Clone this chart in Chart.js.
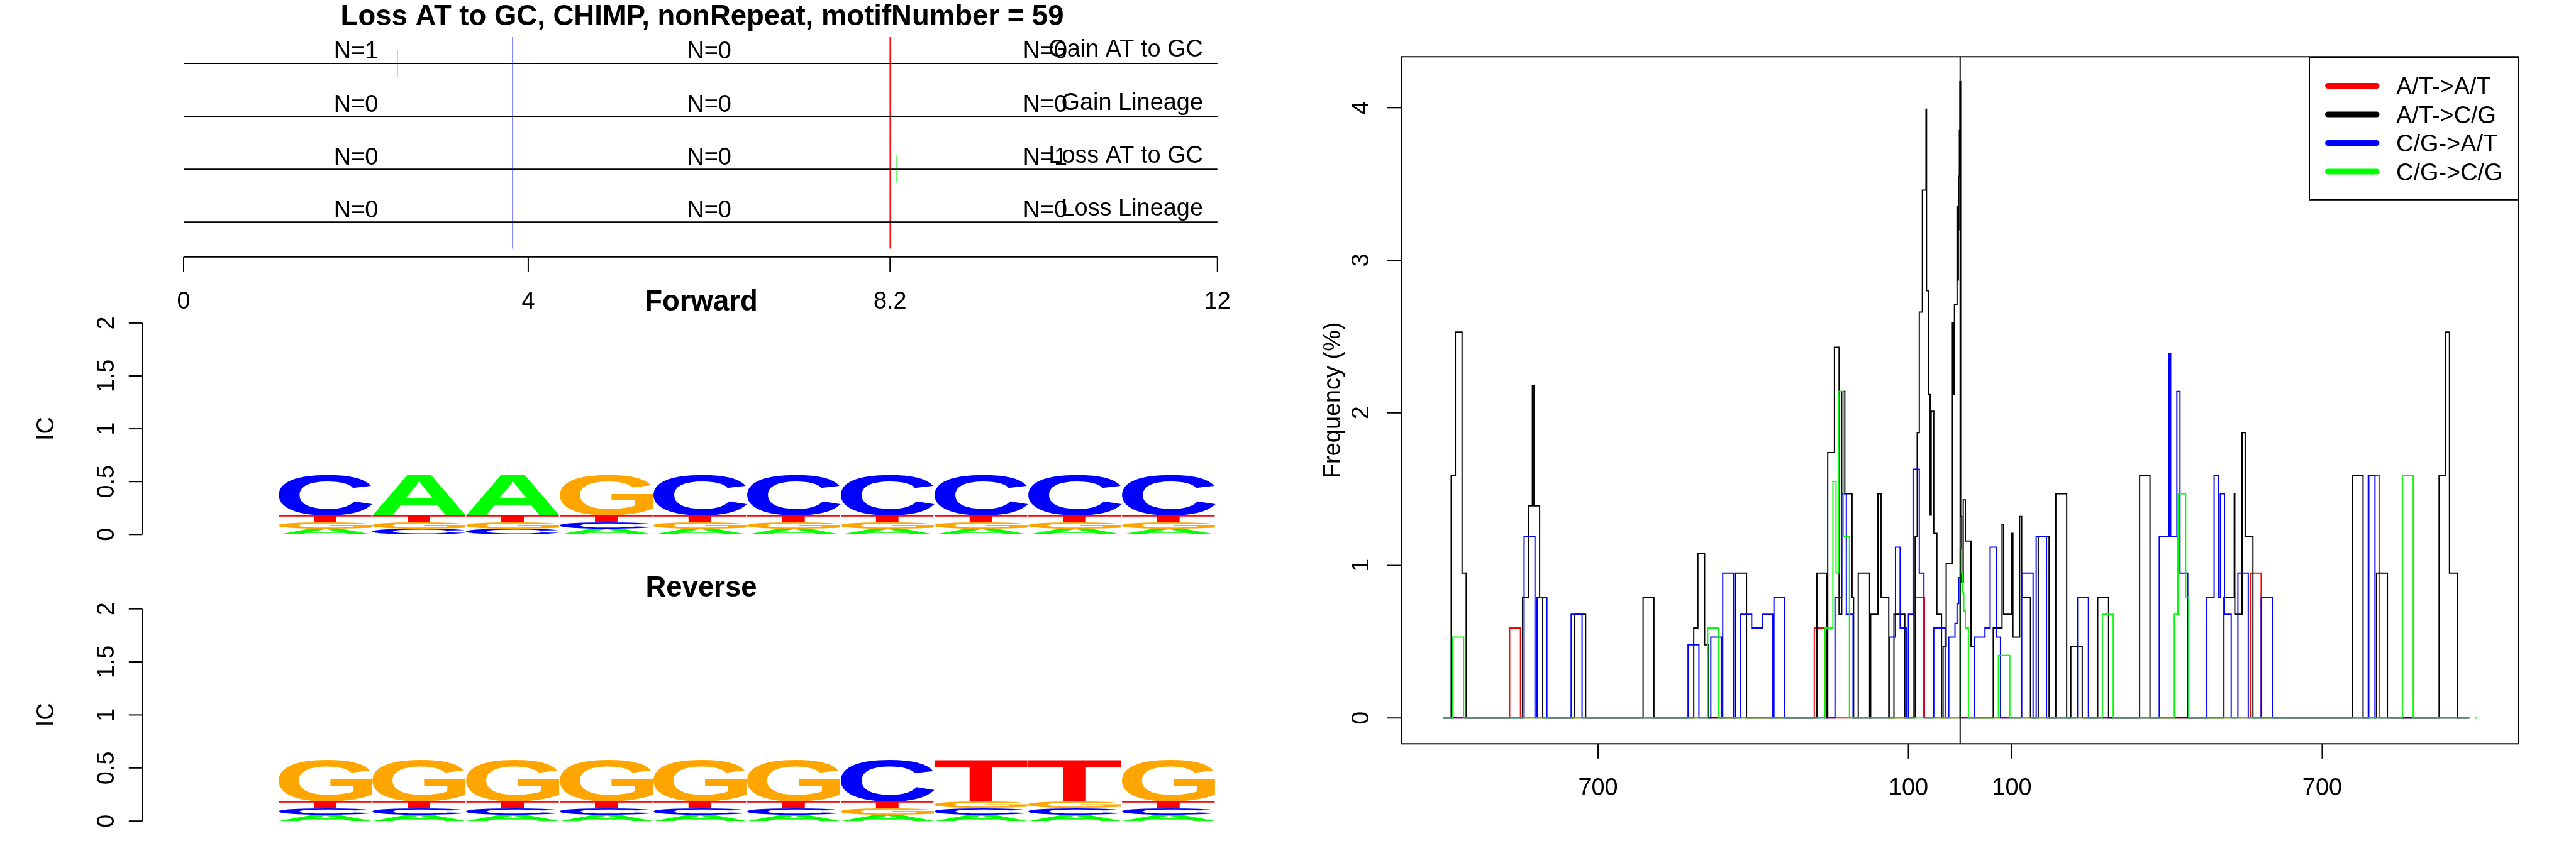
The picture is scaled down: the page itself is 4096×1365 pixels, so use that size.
<!DOCTYPE html>
<html><head><meta charset="utf-8">
<script src="https://cdn.jsdelivr.net/npm/chart.js@4/dist/chart.umd.min.js"></script>
<style>
html,body{margin:0;padding:0;background:#fff;width:4096px;height:1365px;overflow:hidden}
canvas{position:absolute;left:0;top:0}
</style></head><body>
<canvas id="cTop" width="4096" height="1365"></canvas>
<canvas id="cFwd" width="4096" height="1365"></canvas>
<canvas id="cRev" width="4096" height="1365"></canvas>
<canvas id="cFreq" width="4096" height="1365"></canvas>
<script>
// ---------------- DATA ----------------
const mainTitle = 'Loss AT to GC, CHIMP, nonRepeat, motifNumber = 59';
const rowNames = ['Gain AT to GC', 'Gain Lineage', 'Loss AT to GC', 'Loss Lineage'];
const rowLevels = [4, 3, 2, 1];
const segmentBreaks = [0, 3.82, 8.2, 12];
const segmentLabelX = [2.0, 6.1, 10.0];
const rowCounts = [[1, 0, 0], [0, 0, 0], [0, 0, 1], [0, 0, 0]];
const guideRange = [0.5, 4.5];
const eventX = [2.48, 8.27];
const eventRow = [4, 2];
const eventHalf = 0.26;
const topTicks = [0, 4, 8.2, 12];
const topTickLabels = ['0', '4', '8.2', '12'];

const logoPositions = ['1', '2', '3', '4', '5', '6', '7', '8', '9', '10'];
const fwdLetters = [
  ['A','G','T','C'], ['C','G','T','A'], ['C','G','T','A'], ['A','C','T','G'], ['A','G','T','C'],
  ['A','G','T','C'], ['A','G','T','C'], ['A','G','T','C'], ['A','G','T','C'], ['A','G','T','C']
];
const fwdHeights = [
  [0.057,0.062,0.062,0.385], [0.057,0.062,0.062,0.385], [0.057,0.062,0.062,0.385], [0.057,0.062,0.062,0.385],
  [0.057,0.062,0.062,0.385], [0.057,0.062,0.062,0.385], [0.057,0.062,0.062,0.385], [0.057,0.062,0.062,0.385],
  [0.057,0.062,0.062,0.385], [0.057,0.062,0.062,0.385]
];
const revLetters = [
  ['A','C','T','G'], ['A','C','T','G'], ['A','C','T','G'], ['A','C','T','G'], ['A','C','T','G'],
  ['A','C','T','G'], ['A','G','T','C'], ['A','C','G','T'], ['A','C','G','T'], ['A','C','T','G']
];
const revHeights = [
  [0.059,0.065,0.060,0.389], [0.059,0.065,0.060,0.389], [0.059,0.065,0.060,0.389], [0.059,0.065,0.060,0.389],
  [0.059,0.065,0.060,0.389], [0.059,0.065,0.060,0.389], [0.059,0.065,0.060,0.389], [0.059,0.065,0.060,0.389],
  [0.059,0.065,0.060,0.389], [0.059,0.065,0.060,0.389]
];
const letterColors = {A:'#00FF00', C:'#0000FF', G:'#FFA500', T:'#FF0000'};
const icTicks = [0, 0.5, 1, 1.5, 2];
const icTickLabels = ['0', '0.5', '1', '1.5', '2'];

const seriesNames = ['A/T->A/T', 'A/T->C/G', 'C/G->A/T', 'C/G->C/G'];
const seriesColors = ['#FF0000', '#000000', '#0000FF', '#00FF00'];
const redX = [-1000,-871,-850,-282,-261,-90,-69,561,582,789,810,985];
const redY = [0,0.59,0,0.59,0,0.79,0,0.95,0,1.59,0,0];
const blackX = [-1000,-984,-976,-963,-955,-846,-834,-827,-824,-813,-807,-745,-724,-613,-592,-515,-507,-494,-486,-434,-413,-277,-258,-256,-243,-234,-229,-223,-209,-206,-197,-175,-173,-159,-153,-138,-128,-107,-87,-83,-79,-73,-66,-65,-61,-58,-56,-51,-45,-36,-33,-27,-15,-13,-11,-6,-4.5,-3.5,-2.5,-1.5,-0.5,1,3,6,10,21,28,64,81,84,99,102,115,119,136,151,172,185,206,214,236,266,287,347,367,510,530,531,545,551,566,759,779,805,826,926,939,946,961,980];
const blackY = [0,1.59,2.53,0.95,0,0.79,1.39,2.18,1.39,0.79,0,0.68,0,0.79,0,0.59,1.08,0.48,0,0.95,0,0.95,0,1.74,2.43,0.68,2.14,1.47,0.79,0,0.95,0,0.68,1.47,0.79,0,0.68,0,1.19,1.87,2.66,3.46,3.99,2.8,2.12,1.33,2.01,1.21,0.68,0,0.47,1.01,2.59,2.12,2.71,3.35,2.87,3.2,3.55,3.85,4.17,1.32,0.89,1.43,1.16,0.47,0,0.59,1.27,0.68,1.21,0.53,1.32,0.79,0,1.19,0,1.47,0,0.47,0,0.79,0,1.59,0,0.79,1.47,0.68,1.87,1.19,0,1.59,0,0.95,0,1.59,2.53,0.95,0,0];
const blueX = [-1000,-843,-822,-818,-799,-752,-731,-526,-505,-482,-461,-459,-438,-424,-403,-382,-362,-360,-339,-242,-229,-220,-207,-137,-125,-116,-104,-100,-91,-79,-70,-51,-29,-22,-10,-6,-3,0,28,48,58,70,78,119,141,147,167,227,248,385,404,407,419,425,440,477,491,499,503,511,524,537,557,582,604,790,802,985];
const blueY = [0,1.19,0,0.79,0,0.68,0,0.48,0,0.53,0,0.95,0,0.68,0.59,0.68,0,0.79,0,0.79,1.47,0.68,0,0.53,1.12,0.59,0,0.68,1.63,0.95,0,0.59,0,0.53,0.62,0.75,0.92,0,0.53,0.59,1.12,0.53,0,0.95,0,1.19,0,0.79,0,1.19,2.39,1.19,2.14,0.95,0,0.79,1.59,0.79,1.47,0.68,0,0.95,0,0.79,0,1.59,0,0];
const greenX = [-1000,-981,-960,-488,-467,-261,-246,-240,-235,-226,-214,0,2,4,7,10,16,74,96,275,296,414,421,436,442,855,876,985];
const greenY = [0,0.53,0,0.59,0,0.59,1.55,0.95,2.14,1.19,0,1.1,0.95,0.82,0.7,0.59,0,0.41,0,0.68,0,0.68,1.47,0.79,0,1.59,0,0];
const greenDotX = [998];
const greenDotY = [0];
const freqXRange = [-1080, 1080];
const freqYRange = [-0.169, 4.334];
const freqXTicks = [-700, -100, 100, 700];
const freqXTickLabels = ['700', '100', '100', '700'];
const freqYTicks = [0, 1, 2, 3, 4];
const freqYTickLabels = ['0', '1', '2', '3', '4'];
const freqYLabel = 'Frequency (%)';
const centerLineX = 0;

// ---------------- LAYOUT ----------------
const S = 4096 / 5400;
const FONT = '"Liberation Sans", Arial, Helvetica, sans-serif';
const LW = 2;
function padFor(L, T, R, B) { return {left: L*S, top: T*S, right: 4096 - R*S, bottom: 1365 - B*S}; }
const baseOpts = {
  responsive: false, animation: false, devicePixelRatio: 1,
  plugins: {legend: {display: false}, title: {display: false}, tooltip: {enabled: false}},
  elements: {point: {radius: 0}, line: {tension: 0}}
};
function rotText(ctx, txt, x, y) {
  ctx.save(); ctx.translate(x, y); ctx.rotate(-Math.PI/2);
  ctx.textAlign = 'center'; ctx.textBaseline = 'alphabetic';
  ctx.fillText(txt, 0, 0); ctx.restore();
}

// ---------------- TOP PANEL ----------------
const topDatasets = [];
rowLevels.forEach(r => topDatasets.push({data: [{x: segmentBreaks[0], y: r}, {x: segmentBreaks[3], y: r}], borderColor: '#000', borderWidth: LW}));
topDatasets.push({data: [{x: segmentBreaks[1], y: guideRange[0]}, {x: segmentBreaks[1], y: guideRange[1]}], borderColor: '#0000FF', borderWidth: 1.5});
topDatasets.push({data: [{x: segmentBreaks[2], y: guideRange[0]}, {x: segmentBreaks[2], y: guideRange[1]}], borderColor: '#FF0000', borderWidth: 1.5});
eventX.forEach((ex, i) => topDatasets.push({data: [{x: ex, y: eventRow[i] - eventHalf}, {x: ex, y: eventRow[i] + eventHalf}], borderColor: '#00FF00', borderWidth: 1.5}));

const topPlugin = {
  id: 'topText',
  afterDraw(chart) {
    const {ctx, chartArea: a, scales: {x, y}} = chart;
    ctx.save();
    ctx.fillStyle = '#000'; ctx.strokeStyle = '#000';
    ctx.font = `bold ${60*S}px ${FONT}`; ctx.textAlign = 'center'; ctx.textBaseline = 'alphabetic';
    ctx.fillText(mainTitle, 1472*S, 53*S);
    ctx.font = `${50*S}px ${FONT}`;
    rowLevels.forEach((r, i) => {
      const py = y.getPixelForValue(r);
      ctx.textAlign = 'center';
      segmentLabelX.forEach((sx, j) => ctx.fillText('N=' + rowCounts[i][j], x.getPixelForValue(sx), py - 10*S));
      ctx.textAlign = 'right';
      ctx.fillText(rowNames[i], x.getPixelForValue(segmentBreaks[3]) - 30*S, py - 14*S);
    });
    ctx.lineWidth = LW;
    const ay = a.bottom;
    ctx.beginPath(); ctx.moveTo(x.getPixelForValue(topTicks[0]), ay); ctx.lineTo(x.getPixelForValue(topTicks[topTicks.length-1]), ay); ctx.stroke();
    ctx.textAlign = 'center';
    topTicks.forEach((t, i) => {
      const tx = x.getPixelForValue(t);
      ctx.beginPath(); ctx.moveTo(tx, ay); ctx.lineTo(tx, ay + 31*S); ctx.stroke();
      ctx.fillText(topTickLabels[i], tx, ay + 108*S);
    });
    ctx.restore();
  }
};
new Chart(document.getElementById('cTop'), {
  type: 'line',
  data: {datasets: topDatasets},
  options: Object.assign({}, baseOpts, {
    layout: {padding: padFor(298.3, 60, 2638.7, 539)},
    scales: {x: {type: 'linear', min: -0.48, max: 12.48, display: false}, y: {type: 'linear', min: 0.34, max: 4.66, display: false}}
  }),
  plugins: [topPlugin]
});

// ---------------- LOGOS ----------------
function drawGlyph(ctx, ch, color, rx, ry, rw, rh) {
  if (rw <= 0 || rh <= 0.3) return;
  ctx.save();
  ctx.font = `bold 200px ${FONT}`;
  ctx.textAlign = 'left'; ctx.textBaseline = 'alphabetic';
  const m = ctx.measureText(ch);
  const gl = m.actualBoundingBoxLeft, gr = m.actualBoundingBoxRight;
  const ga = m.actualBoundingBoxAscent, gd = m.actualBoundingBoxDescent;
  ctx.translate(rx, ry); ctx.scale(rw / (gl + gr), rh / (ga + gd));
  ctx.fillStyle = color;
  ctx.fillText(ch, gl, ga);
  ctx.restore();
}
function logoPlugin(title) {
  return {
    id: 'logo' + title,
    afterDatasetsDraw(chart) {
      const ctx = chart.ctx;
      chart.data.datasets.forEach((ds, di) => {
        const meta = chart.getDatasetMeta(di);
        meta.data.forEach((el, j) => {
          const p = el.getProps(['x', 'y', 'base', 'width'], true);
          const top = Math.min(p.y, p.base), h = Math.abs(p.base - p.y);
          const ch = ds.letters[j];
          drawGlyph(ctx, ch, letterColors[ch], p.x - p.width/2, top, p.width, h);
        });
      });
    },
    afterDraw(chart) {
      const {ctx, chartArea: a, scales: {y}} = chart;
      ctx.save();
      ctx.fillStyle = '#000'; ctx.strokeStyle = '#000'; ctx.lineWidth = LW;
      const axX = 298.5*S;
      ctx.beginPath(); ctx.moveTo(axX, y.getPixelForValue(icTicks[0])); ctx.lineTo(axX, y.getPixelForValue(icTicks[icTicks.length-1])); ctx.stroke();
      ctx.font = `${50*S}px ${FONT}`;
      icTicks.forEach((t, i) => {
        const ty = y.getPixelForValue(t);
        ctx.beginPath(); ctx.moveTo(axX, ty); ctx.lineTo(270*S, ty); ctx.stroke();
        rotText(ctx, icTickLabels[i], 239*S, ty);
      });
      rotText(ctx, 'IC', 112*S, y.getPixelForValue(1));
      ctx.font = `bold ${60*S}px ${FONT}`; ctx.textAlign = 'center'; ctx.textBaseline = 'alphabetic';
      ctx.fillText(title, 1470*S, a.top - 26*S);
      ctx.restore();
    }
  };
}
function makeLogo(id, letters, heights, top, bottom, title) {
  const datasets = [0, 1, 2, 3].map(k => ({
    label: 'layer' + k,
    data: heights.map(h => h[k]),
    letters: letters.map(l => l[k]),
    backgroundColor: 'rgba(0,0,0,0)', borderWidth: 0,
    barPercentage: 1, categoryPercentage: 1, stack: 's'
  }));
  new Chart(document.getElementById(id), {
    type: 'bar',
    data: {labels: logoPositions, datasets},
    options: Object.assign({}, baseOpts, {
      layout: {padding: padFor(584, top, 2548, bottom)},
      scales: {
        x: {type: 'category', stacked: true, display: false, offset: true},
        y: {type: 'linear', stacked: true, min: 0, max: 2, display: false}
      }
    }),
    plugins: [logoPlugin(title)]
  });
}
makeLogo('cFwd', fwdLetters, fwdHeights, 677.5, 1121, 'Forward');
makeLogo('cRev', revLetters, revHeights, 1277, 1722, 'Reverse');

// ---------------- FREQUENCY PLOT ----------------
const seriesX = [redX, blackX, blueX, greenX];
const seriesY = [redY, blackY, blueY, greenY];
const freqDatasets = seriesNames.map((name, i) => ({
  label: name,
  data: seriesX[i].map((xv, k) => ({x: xv, y: seriesY[i][k]})),
  borderColor: seriesColors[i], borderWidth: LW, stepped: true, fill: false,
  order: 4 - i + 1
}));
freqDatasets.push({label: '', data: greenDotX.map((xv, k) => ({x: xv, y: greenDotY[k]})), showLine: false,
  pointRadius: 1.5, pointBackgroundColor: '#00FF00', pointBorderWidth: 0, borderColor: '#00FF00', order: 1});
freqDatasets.push({label: '', data: [{x: centerLineX, y: freqYRange[0]}, {x: centerLineX, y: freqYRange[1]}], borderColor: '#000', borderWidth: LW, order: 0});

const freqPlugin = {
  id: 'freqAxes',
  afterDraw(chart) {
    const {ctx, chartArea: a, scales: {x, y}} = chart;
    ctx.save();
    ctx.strokeStyle = '#000'; ctx.fillStyle = '#000'; ctx.lineWidth = LW;
    ctx.strokeRect(a.left, a.top, a.width, a.height);
    ctx.font = `${50*S}px ${FONT}`;
    ctx.textAlign = 'center'; ctx.textBaseline = 'alphabetic';
    freqXTicks.forEach((t, i) => {
      const tx = x.getPixelForValue(t);
      ctx.beginPath(); ctx.moveTo(tx, a.bottom); ctx.lineTo(tx, a.bottom + 31*S); ctx.stroke();
      ctx.fillText(freqXTickLabels[i], tx, a.bottom + 108*S);
    });
    freqYTicks.forEach((t, i) => {
      const ty = y.getPixelForValue(t);
      ctx.beginPath(); ctx.moveTo(a.left, ty); ctx.lineTo(a.left - 31*S, ty); ctx.stroke();
      rotText(ctx, freqYTickLabels[i], a.left - 69*S, ty);
    });
    rotText(ctx, freqYLabel, a.left - 128*S, a.top + a.height/2);
    // legend
    const bx = a.right - 439*S, by = a.top + 1*S, bw = 439*S, bh = 299*S;
    ctx.fillStyle = '#fff'; ctx.fillRect(bx, by, bw, bh);
    ctx.strokeRect(bx, by, bw, bh);
    ctx.textAlign = 'left';
    seriesNames.forEach((name, i) => {
      const ly = a.top + (61 + 60*i)*S;
      ctx.save();
      ctx.strokeStyle = seriesColors[i]; ctx.lineWidth = 12*S; ctx.lineCap = 'round';
      ctx.beginPath(); ctx.moveTo(bx + 39*S, ly); ctx.lineTo(bx + 141*S, ly); ctx.stroke();
      ctx.restore();
      ctx.fillStyle = '#000';
      ctx.fillText(name, bx + 182*S, ly + 18*S);
    });
    ctx.restore();
  }
};
new Chart(document.getElementById('cFreq'), {
  type: 'line',
  data: {datasets: freqDatasets},
  options: Object.assign({}, baseOpts, {
    layout: {padding: padFor(2938, 119, 5280, 1560)},
    scales: {
      x: {type: 'linear', min: freqXRange[0], max: freqXRange[1], display: false},
      y: {type: 'linear', min: freqYRange[0], max: freqYRange[1], display: false}
    }
  }),
  plugins: [freqPlugin]
});
</script>
</body></html>
